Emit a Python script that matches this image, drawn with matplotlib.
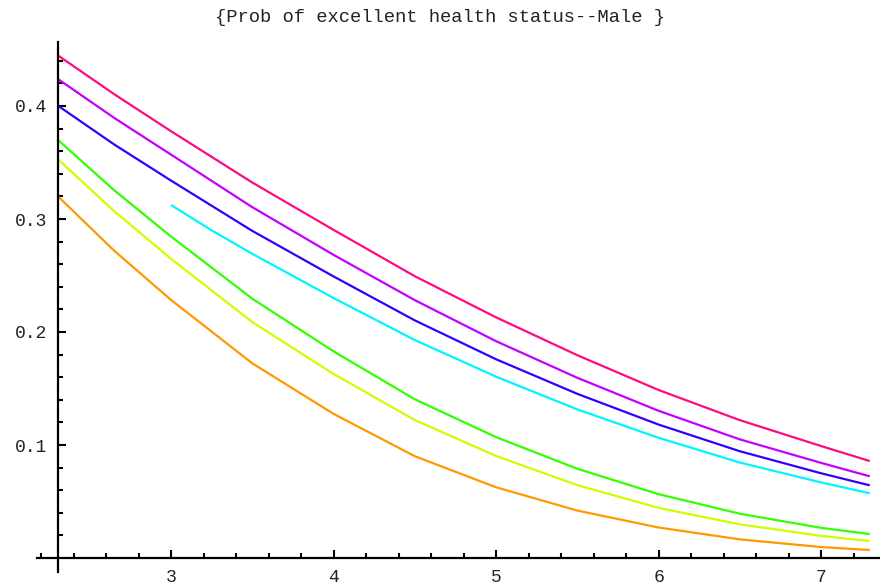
import numpy as np
import matplotlib.pyplot as plt
from matplotlib.ticker import FixedLocator

# values
x_full = [2.307, 2.65, 3.0, 3.5, 4.0, 4.5, 5.0, 5.5, 6.0, 6.5, 7.0, 7.30]
x_cyan = [3.0, 3.25, 3.5, 4.0, 4.5, 5.0, 5.5, 6.0, 6.5, 7.0, 7.30]

pink   = [0.4445, 0.4105, 0.3777, 0.3323, 0.2904, 0.2494, 0.2130, 0.1795, 0.1487, 0.1220, 0.0991, 0.0858]
purple = [0.4236, 0.3895, 0.3570, 0.3105, 0.2683, 0.2282, 0.1919, 0.1595, 0.1303, 0.1050, 0.0842, 0.0723]
blue   = [0.4000, 0.3660, 0.3340, 0.2895, 0.2492, 0.2103, 0.1759, 0.1453, 0.1181, 0.0945, 0.0750, 0.0643]
cyan   = [0.3124, 0.2900, 0.2692, 0.2301, 0.1929, 0.1605, 0.1315, 0.1064, 0.0845, 0.0669, 0.0573]
green  = [0.3696, 0.3255, 0.2845, 0.2295, 0.1829, 0.1405, 0.1070, 0.0790, 0.0565, 0.0392, 0.0267, 0.0212]
yellow = [0.3525, 0.3070, 0.2648, 0.2088, 0.1629, 0.1221, 0.0903, 0.0645, 0.0444, 0.0298, 0.0196, 0.0150]
orange = [0.3197, 0.2720, 0.2284, 0.1723, 0.1276, 0.0901, 0.0626, 0.0420, 0.0270, 0.0165, 0.0097, 0.0071]

title = "{Prob of excellent health status--Male }"
font = 'Liberation Mono'

fig = plt.figure(figsize=(8.8, 5.88), dpi=100)
ax = fig.add_axes([0, 0, 1, 1])

series = [(pink, '#ff0a80'), (purple, '#c400ff'), (blue, '#3300ff'),
          (green, '#33ff00'), (yellow, '#ccff00'), (orange, '#ff9900')]
for ys, col in series:
    ax.plot(x_full, ys, color=col, lw=1.6, solid_capstyle='butt')
ax.plot(x_cyan, cyan, color='#00f5ff', lw=1.6, solid_capstyle='butt')

# pixel mapping: x=3 at 171px, 162.5 px/unit; y=0 at 558px, 1130 px/unit
ax.set_xlim(3 - 171 / 162.5, 3 + 709 / 162.5)
ax.set_ylim(-30 / 1130, 558 / 1130)
ax.patch.set_visible(False)

for s in ['top', 'right']:
    ax.spines[s].set_visible(False)
ax.spines['left'].set_position(('data', 2.307))
ax.spines['bottom'].set_position(('data', 0))
ax.spines['left'].set_bounds(-0.0121, 0.4566)
ax.spines['bottom'].set_bounds(2.178, 7.363)
ax.spines['left'].set_linewidth(1.6)
ax.spines['bottom'].set_linewidth(1.6)

ax.xaxis.set_major_locator(FixedLocator([3, 4, 5, 6, 7]))
ax.xaxis.set_minor_locator(FixedLocator([v for v in np.arange(2.2, 7.3, 0.2) if abs(v - round(v)) > 0.01]))
ax.yaxis.set_major_locator(FixedLocator([0.1, 0.2, 0.3, 0.4]))
ax.yaxis.set_minor_locator(FixedLocator([v for v in np.arange(0.02, 0.45, 0.02) if abs(v * 10 - round(v * 10)) > 0.01]))
ax.set_xticklabels(['3', '4', '5', '6', '7'])
ax.set_yticklabels(['0.1', '0.2', '0.3', '0.4'])

ax.tick_params(which='both', direction='in', width=1.5, colors='black', labelcolor='#222222')
ax.tick_params(which='major', length=6, labelsize=13, pad=8)
ax.tick_params(which='minor', length=3.5)
for lab in ax.get_xticklabels() + ax.get_yticklabels():
    lab.set_family(font)

fig.text(0.5, 1 - 18 / 588, title, ha='center', va='center', fontsize=13.5,
         family=font, color='#222222')

fig.savefig('out.png', dpi=100)
